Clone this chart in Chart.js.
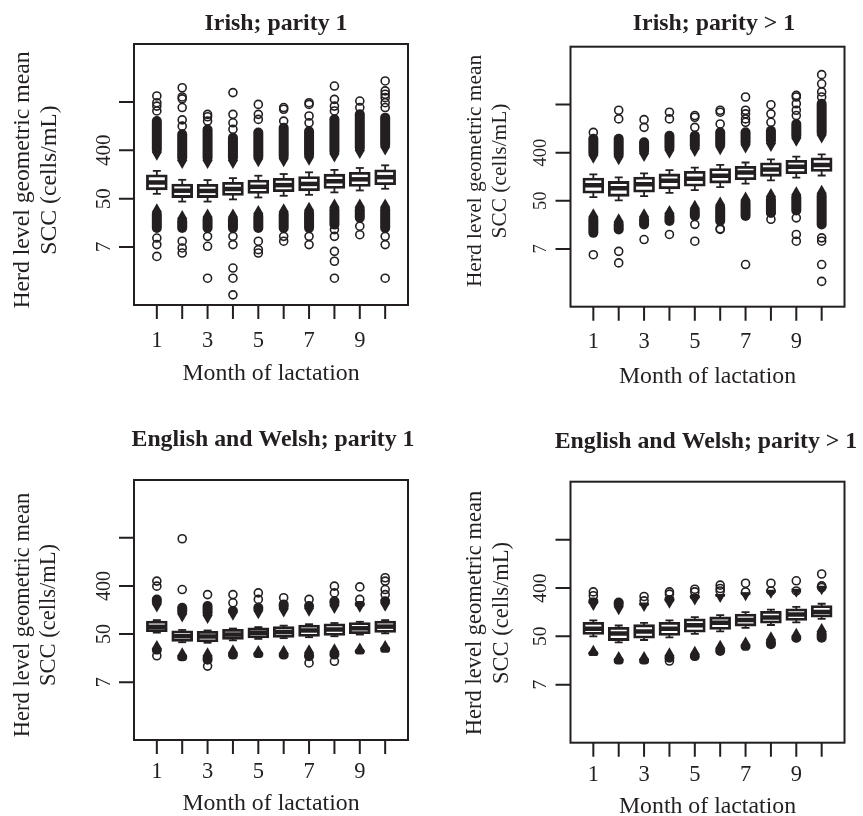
<!DOCTYPE html>
<html lang="en">
<head>
  <meta charset="UTF-8">
  <title>Herd level geometric mean SCC by month of lactation</title>
  <script src="https://cdn.jsdelivr.net/npm/chart.js"></script>
  <style>
    body { margin: 0; background: #fff; }
    #wrap { position: relative; width: 863px; height: 816px; }
    canvas { position: absolute; }
  </style>
</head>
<body>
  <div id="wrap">
    <canvas id="p0" width="431" height="408" style="left:0;top:0"></canvas>
    <canvas id="p1" width="432" height="408" style="left:431px;top:0"></canvas>
    <canvas id="p2" width="431" height="408" style="left:0;top:408px"></canvas>
    <canvas id="p3" width="432" height="408" style="left:431px;top:408px"></canvas>
  </div>

  <script>
    // values are ln(SCC, '000 cells/mL); one row per panel:
    // Irish p1, Irish p>1, English and Welsh p1, English and Welsh p>1
    const titles = ['Irish; parity 1', 'Irish; parity > 1', 'English and Welsh; parity 1', 'English and Welsh; parity > 1'];
    const months = [1, 2, 3, 4, 5, 6, 7, 8, 9, 10];
    const monthLabels = ['1', '', '3', '', '5', '', '7', '', '9', ''];
    const yTicks = [2, 4, 6, 8];
    const yTickLabels = ['7', '50', '400', ''];
    const xTitle = 'Month of lactation';
    const yTitle = ['Herd level geometric mean', 'SCC (cells/mL)'];

    const q1 = [
      [4.41, 4.09, 4.09, 4.18, 4.26, 4.33, 4.37, 4.47, 4.55, 4.62],
      [4.36, 4.23, 4.40, 4.54, 4.65, 4.78, 4.92, 5.06, 5.17, 5.26],
      [4.14, 3.74, 3.72, 3.82, 3.88, 3.91, 3.95, 3.99, 4.06, 4.11],
      [4.12, 3.87, 3.97, 4.08, 4.22, 4.33, 4.47, 4.59, 4.70, 4.84]
    ];
    const median = [
      [4.67, 4.33, 4.32, 4.40, 4.49, 4.56, 4.61, 4.72, 4.80, 4.89],
      [4.65, 4.52, 4.69, 4.83, 4.92, 5.04, 5.17, 5.30, 5.41, 5.49],
      [4.30, 3.91, 3.90, 3.98, 4.05, 4.09, 4.15, 4.19, 4.24, 4.31],
      [4.32, 4.12, 4.20, 4.32, 4.46, 4.56, 4.68, 4.78, 4.90, 5.01]
    ];
    const q3 = [
      [4.94, 4.56, 4.55, 4.63, 4.73, 4.80, 4.87, 4.97, 5.05, 5.15],
      [4.90, 4.76, 4.94, 5.07, 5.18, 5.29, 5.39, 5.53, 5.64, 5.74],
      [4.50, 4.09, 4.07, 4.15, 4.21, 4.27, 4.33, 4.38, 4.43, 4.50],
      [4.54, 4.33, 4.44, 4.54, 4.68, 4.76, 4.88, 4.99, 5.10, 5.23]
    ];
    const whiskerLow = [
      [4.20, 3.88, 3.88, 3.97, 4.05, 4.12, 4.16, 4.26, 4.34, 4.41],
      [4.15, 4.02, 4.19, 4.33, 4.44, 4.57, 4.71, 4.85, 4.96, 5.05],
      [4.06, 3.66, 3.64, 3.74, 3.80, 3.83, 3.87, 3.91, 3.98, 4.03],
      [4.00, 3.75, 3.85, 3.96, 4.10, 4.21, 4.35, 4.47, 4.58, 4.72]
    ];
    const whiskerHigh = [
      [5.15, 4.78, 4.77, 4.85, 4.95, 5.02, 5.09, 5.19, 5.27, 5.38],
      [5.10, 4.97, 5.14, 5.27, 5.38, 5.49, 5.59, 5.72, 5.83, 5.93],
      [4.58, 4.17, 4.15, 4.23, 4.29, 4.35, 4.41, 4.46, 4.51, 4.58],
      [4.66, 4.45, 4.56, 4.66, 4.80, 4.88, 5.00, 5.11, 5.22, 5.35]
    ];

    // solid runs of overlapping outliers [near end, far end]
    const denseHigh = [
      [[5.82, 7.42], [5.48, 6.87], [5.48, 7.07], [5.48, 6.73], [5.55, 6.94], [5.55, 7.14], [5.61, 7.00], [5.75, 7.49], [5.89, 7.70], [6.03, 7.56]],
      [[5.79, 6.78], [5.72, 6.78], [5.86, 6.64], [6.00, 6.91], [6.07, 6.91], [6.14, 7.05], [6.21, 7.05], [6.28, 7.12], [6.49, 7.40], [6.63, 8.24]],
      [[5.15, 5.64], [4.73, 5.30], [4.67, 5.37], [4.80, 5.16], [4.87, 5.30], [4.94, 5.44], [4.97, 5.37], [5.08, 5.57], [5.13, 5.37], [5.18, 5.57]],
      [[5.30, 5.61], [5.12, 5.61], [5.26, 5.40], [5.39, 5.68], [5.53, 5.75], [5.63, 5.75], [5.70, 5.82], [5.81, 5.88], [5.85, 5.88], [5.95, 6.09]]
    ];
    const denseLow = [
      [[2.58, 3.56], [2.58, 3.28], [2.58, 3.35], [2.58, 3.35], [2.58, 3.49], [2.58, 3.56], [2.58, 3.62], [2.72, 3.76], [3.00, 3.76], [2.58, 3.76]],
      [[2.46, 3.44], [2.60, 3.23], [2.81, 3.44], [2.95, 3.58], [3.16, 3.79], [2.95, 3.93], [3.16, 4.14], [3.29, 4.28], [3.39, 4.35], [2.81, 4.42]],
      [[3.15, 3.50], [2.87, 3.20], [2.73, 3.20], [2.94, 3.33], [3.01, 3.30], [2.94, 3.30], [2.87, 3.33], [2.94, 3.37], [3.15, 3.40], [3.22, 3.50]],
      [[3.19, 3.40], [2.84, 3.15], [2.84, 3.15], [2.91, 3.30], [2.98, 3.36], [3.19, 3.61], [3.40, 3.75], [3.47, 3.96], [3.74, 4.11], [3.74, 4.30]]
    ];

    // single outliers outside the solid runs
    const outHigh = [
      [[8.25, 7.97, 7.83, 7.63], [8.59, 8.21, 8.13, 7.77, 7.26, 7.00], [7.49, 7.39, 7.21], [8.39, 7.49, 7.14, 6.87], [7.90, 7.49, 7.28],
       [7.77, 7.70, 7.21], [7.97, 7.90, 7.42, 7.14], [8.66, 8.11, 7.83, 7.63], [8.04, 7.77], [8.87, 8.46, 8.32, 8.18, 7.97, 7.77]],
      [[6.84], [7.76, 7.40], [7.37, 7.05], [7.68, 7.40], [7.54, 7.47, 7.05],
       [7.76, 7.68, 7.19], [8.31, 7.76, 7.61, 7.40, 7.26], [7.99, 7.61, 7.26], [8.38, 8.31, 8.03, 7.76, 7.54], [9.24, 8.86, 8.52, 8.31]],
      [[6.20, 5.99], [7.96, 5.85], [5.64], [5.64, 5.30], [5.71, 5.44],
       [5.51], [5.44], [5.99, 5.71], [5.96, 5.44], [6.34, 6.20, 5.85, 5.64]],
      [[5.84, 5.68], [], [5.65, 5.47], [5.84, 5.75], [5.95, 5.84],
       [6.12, 5.98, 5.88], [6.20, 5.84], [6.20, 5.88], [6.30, 5.88], [6.58, 6.09, 6.02]]
    ];
    const outLow = [
      [[2.37, 2.10, 1.61], [2.24, 1.96, 1.75], [2.44, 2.03, 0.71], [2.44, 2.10, 1.13, 0.71, 0.02], [2.24, 1.89, 1.75],
       [2.44, 2.24], [2.44, 2.10], [2.72, 2.44, 1.82, 1.41, 0.71], [2.86, 2.51], [2.44, 2.10, 0.71]],
      [[1.76], [1.90, 1.42], [2.39], [2.60], [3.02, 2.32],
       [2.84, 2.81], [1.35], [3.50, 3.23], [3.29, 2.60, 2.32], [2.46, 2.32, 1.35, 0.65]],
      [[3.10], [], [2.67], [], [], [], [2.80], [2.87], [], []],
      [[], [], [], [2.98], [], [], [], [], [], []]
    ];

    // page layout of each panel (canvas pixels)
    const panels = [
      { pad: { left: 134, top: 44, right: 23, bottom: 103 }, titleX: 276, titleY: 30,
        yLine: [105.5, 78], yMid: 180, yTitleSize: 23.7, yTickOff: 24, yTickSize: 21, xTickOff: 41.7, xTitleOff: 75 },
      { pad: { left: 139.5, top: 46.7, right: 18.5, bottom: 101.3 }, titleX: 283, titleY: 30,
        yLine: [89.5, 64.5], yMid: 171, yTitleSize: 21.4, yTickOff: 25, yTickSize: 18.5, xTickOff: 41.6, xTitleOff: 76 },
      { pad: { left: 134, top: 72, right: 23, bottom: 76 }, titleX: 273, titleY: 38,
        yLine: [105, 79], yMid: 207, yTitleSize: 22.5, yTickOff: 24, yTickSize: 20, xTickOff: 38.3, xTitleOff: 70 },
      { pad: { left: 139.5, top: 73.7, right: 18.5, bottom: 73.3 }, titleX: 275, titleY: 40.3,
        yLine: [90, 63], yMid: 205, yTitleSize: 22.5, yTickOff: 25, yTickSize: 19.5, xTickOff: 38, xTitleOff: 70.6 }
    ];

    const ink = '#231f20';
    const serif = '"Liberation Serif", "Times New Roman", serif';

    // frame, ticks and text in the style of base R graphics
    const rAxes = {
      id: 'rAxes',
      afterDatasetsDraw(chart, args, o) {
        const { ctx, chartArea: a, scales: { x, y } } = chart;
        const L = panels[o.panel];
        ctx.save();
        ctx.strokeStyle = ink;
        ctx.fillStyle = ink;
        ctx.lineWidth = 2;
        ctx.strokeRect(a.left, a.top, a.right - a.left, a.bottom - a.top);
        ctx.beginPath();
        months.forEach(m => {
          const px = x.getPixelForValue(m);
          ctx.moveTo(px, a.bottom);
          ctx.lineTo(px, a.bottom + 14);
        });
        yTicks.forEach(v => {
          const py = y.getPixelForValue(v);
          ctx.moveTo(a.left, py);
          ctx.lineTo(a.left - 15, py);
        });
        ctx.stroke();

        ctx.textAlign = 'center';
        ctx.textBaseline = 'alphabetic';
        ctx.font = `22.5px ${serif}`;
        months.forEach((m, j) => {
          if (monthLabels[j]) ctx.fillText(monthLabels[j], x.getPixelForValue(m), a.bottom + L.xTickOff);
        });
        ctx.font = `23.8px ${serif}`;
        ctx.fillText(xTitle, (a.left + a.right) / 2, a.bottom + L.xTitleOff);

        ctx.font = `bold 23.8px ${serif}`;
        ctx.fillText(titles[o.panel], L.titleX, L.titleY);

        // rotated y labels
        ctx.font = `${L.yTickSize}px ${serif}`;
        yTicks.forEach((v, j) => {
          ctx.save();
          ctx.translate(a.left - L.yTickOff, y.getPixelForValue(v));
          ctx.rotate(-Math.PI / 2);
          ctx.fillText(yTickLabels[j], 0, 0);
          ctx.restore();
        });
        ctx.font = `${L.yTitleSize}px ${serif}`;
        yTitle.forEach((t, j) => {
          ctx.save();
          ctx.translate(a.left - L.yLine[j], L.yMid);
          ctx.rotate(-Math.PI / 2);
          ctx.fillText(t, 0, 0);
          ctx.restore();
        });
        ctx.restore();
      }
    };

    function makePanel(i) {
      const pick = arr => months.map((m, j) => ({ x: m, y: arr[i][j] }));
      const span = (a, b) => months.map((m, j) => ({ x: m, y: [a[i][j], b[i][j]] }));
      const spread = arr => months.flatMap((m, j) => arr[i][j].map(v => ({ x: m, y: v })));

      const thinBar = { type: 'bar', grouped: false, barThickness: 1.8, backgroundColor: ink, borderWidth: 0, inflateAmount: 0, order: 3 };
      const denseBar = { type: 'bar', grouped: false, barThickness: 10, backgroundColor: ink, borderWidth: 0,
                         borderRadius: 5, borderSkipped: false, inflateAmount: 0, order: 5 };
      const dots = { type: 'scatter', showLine: false, backgroundColor: ink, borderColor: ink };

      new Chart(document.getElementById('p' + i), {
        type: 'bar',
        data: {
          datasets: [
            { ...thinBar, data: span(q3, whiskerHigh) },
            { ...thinBar, data: span(whiskerLow, q1) },
            { ...dots, data: pick(whiskerHigh).concat(pick(whiskerLow)), pointStyle: 'line', pointRadius: 4, borderWidth: 1.8, order: 2 },
            { ...denseBar, data: months.map((m, j) => ({ x: m, y: denseHigh[i][j] })) },
            { ...denseBar, data: months.map((m, j) => ({ x: m, y: denseLow[i][j] })) },
            { ...dots, data: months.map((m, j) => ({ x: m, y: denseHigh[i][j][0] })), pointStyle: 'triangle',
              rotation: 180, pointRadius: 6, borderWidth: 0, order: 4 },
            { ...dots, data: months.map((m, j) => ({ x: m, y: denseLow[i][j][1] })), pointStyle: 'triangle',
              rotation: 0, pointRadius: 6, borderWidth: 0, order: 4 },
            { ...dots, data: spread(outHigh).concat(spread(outLow)), pointStyle: 'circle', pointRadius: 4,
              backgroundColor: 'rgba(0,0,0,0)', borderWidth: 1.6, order: 4 },
            { type: 'bar', grouped: false, data: span(q1, q3), barPercentage: 0.74, categoryPercentage: 1,
              backgroundColor: '#fff', borderColor: ink, borderWidth: 2.8, borderSkipped: false, inflateAmount: 1.4, order: 1 },
            { ...dots, data: pick(median), pointStyle: 'line', pointRadius: 9, borderWidth: 4.5, order: 0 }
          ]
        },
        options: {
          responsive: false,
          animation: false,
          devicePixelRatio: 1,
          events: [],
          layout: { padding: panels[i].pad },
          scales: {
            x: { type: 'linear', min: 0.1, max: 10.9, offset: false, display: false },
            y: { type: 'linear', min: -0.4, max: 10.4, display: false }
          },
          plugins: { legend: { display: false }, tooltip: { enabled: false }, rAxes: { panel: i } }
        },
        plugins: [rAxes]
      });
    }

    [0, 1, 2, 3].forEach(makePanel);
  </script>
</body>
</html>
